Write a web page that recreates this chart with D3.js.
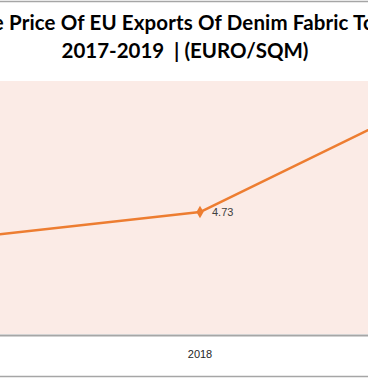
<!DOCTYPE html>
<html>
<head>
<meta charset="utf-8">
<script src="https://cdn.jsdelivr.net/npm/d3@7"></script>
<style>
  body { margin: 0; background: #fff; }
  svg { display: block; }
</style>
</head>
<body>
<div id="chart"></div>
<script>
// values (only 2018 is labelled, the others are estimated)
const years = ["2017", "2018", "2019"];
const prices = [4.61, 4.73, 5.26];
const shownLabels = ["2018"];
const titleLine1 = "Average Price Of EU Exports Of Denim Fabric To Turkey";
const titleLine2 = "2017-2019  | (EURO/SQM)";

const width = 368, height = 378;
const plot = {top: 81, bottom: 334};

const data = years.map((y, i) => ({year: y, value: prices[i]}));

const svg = d3.select("#chart").append("svg")
    .attr("width", width)
    .attr("height", height);

// chart border (only top and bottom are inside the crop)
svg.append("line").attr("x1", 0).attr("x2", width).attr("y1", 1.5).attr("y2", 1.5)
    .attr("stroke", "#a6a6a6").attr("stroke-width", 1.5);
svg.append("line").attr("x1", 0).attr("x2", width).attr("y1", 376.5).attr("y2", 376.5)
    .attr("stroke", "#a6a6a6").attr("stroke-width", 1.5);

// the chart is wider than the window, so the outer categories fall outside
const xScale = d3.scaleBand()
    .domain(years)
    .range([-175, 575]);

const yScale = d3.scaleLinear()
    .domain([4.2, 5.3])
    .range([plot.bottom, plot.top]);

const cx = d => xScale(d.year) + xScale.bandwidth() / 2;

svg.append("rect")
    .attr("x", 0).attr("y", plot.top)
    .attr("width", width).attr("height", plot.bottom - plot.top)
    .attr("fill", "#fbebe6");

// title
const t1 = svg.append("text")
    .attr("y", 30)
    .attr("font-family", "Lato, 'Open Sans', sans-serif")
    .attr("font-weight", "bold")
    .attr("fill", "#000")
    .text(titleLine1);
const t2 = svg.append("text")
    .attr("x", 185).attr("y", 58)
    .attr("text-anchor", "middle")
    .attr("font-family", "Lato, 'Open Sans', sans-serif")
    .attr("font-weight", "bold")
    .attr("fill", "#000")
    .style("white-space", "pre")
    .text(titleLine2);

// size the second line to the width seen in the picture
t2.attr("font-size", 20);
let fs = 20 * 247 / t2.node().getComputedTextLength();
t2.attr("font-size", fs);
t1.attr("font-size", fs);

// first line: "Price" starts near x=9, "To" near x=353
const pIdx = titleLine1.indexOf("Price");
const tIdx = titleLine1.indexOf(" To ") + 1;
t1.attr("x", 0);
let pPos = t1.node().getStartPositionOfChar(pIdx).x;
let tPos = t1.node().getStartPositionOfChar(tIdx).x;
const extra = (344 - (tPos - pPos)) / (tIdx - pIdx);
t1.attr("letter-spacing", extra);
pPos = t1.node().getStartPositionOfChar(pIdx).x;
t1.attr("x", 9 - pPos);

// x axis
const xAxis = d3.axisBottom(xScale).tickSize(0).tickPadding(15)
    .tickFormat(d => shownLabels.includes(d) ? d : "");
const gx = svg.append("g")
    .attr("transform", `translate(0, ${plot.bottom + 1})`)
    .call(xAxis);
gx.select(".domain").attr("stroke", "#a6a6a6").attr("stroke-width", 2);
gx.selectAll("text")
    .attr("font-family", "'Liberation Sans', Arial, sans-serif")
    .attr("font-size", 11)
    .attr("fill", "#262626");

// line
svg.append("path")
    .datum(data)
    .attr("fill", "none")
    .attr("stroke", "#ed7d31")
    .attr("stroke-width", 2.5)
    .attr("stroke-linejoin", "round")
    .attr("d", d3.line().x(cx).y(d => yScale(d.value)));

svg.selectAll(".marker")
    .data(data)
    .join("path")
    .attr("class", "marker")
    .attr("d", d3.symbol().type(d3.symbolDiamond).size(45))
    .attr("transform", d => `translate(${cx(d)}, ${yScale(d.value)})`)
    .attr("fill", "#ed7d31");

// only the 2018 label falls inside the window
svg.selectAll(".label")
    .data(data.filter(d => shownLabels.includes(d.year)))
    .join("text")
    .attr("class", "label")
    .attr("x", d => cx(d) + 12)
    .attr("y", d => yScale(d.value) + 4)
    .attr("font-family", "'Liberation Sans', Arial, sans-serif")
    .attr("font-size", 11)
    .attr("fill", "#404040")
    .text(d => d3.format(".2f")(d.value));
</script>
</body>
</html>
